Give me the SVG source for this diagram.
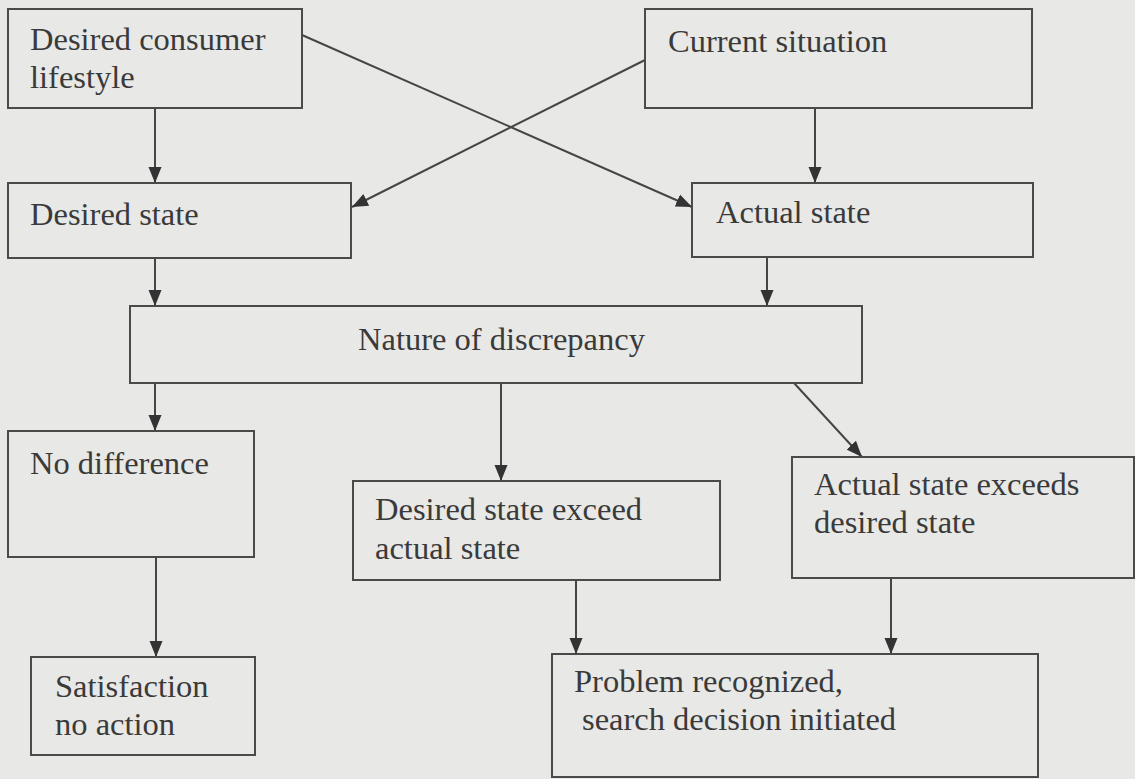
<svg xmlns="http://www.w3.org/2000/svg" width="1135" height="779" viewBox="0 0 1135 779">
<style>
.box{fill:none;stroke:#4a4a4a;stroke-width:2}
.lbl{font-family:"Liberation Serif","Times New Roman",serif;font-size:32.5px;fill:#3a3a3a}
.edge{stroke:#454545;stroke-width:2;fill:none;marker-end:url(#ah)}
</style>
<defs>
<marker id="ah" markerUnits="userSpaceOnUse" markerWidth="16" markerHeight="16" viewBox="0 0 16 16" refX="16" refY="8" orient="auto">
<path d="M0,1.5 L16,8 L0,14.5 z" fill="#333333"/>
</marker>
</defs>
<rect width="1135" height="779" fill="#e8e8e6"/>
<g id="connectors">
<line class="edge" x1="155" y1="108" x2="155" y2="183"/>
<line class="edge" x1="302" y1="35" x2="692" y2="207"/>
<line class="edge" x1="645" y1="60" x2="352" y2="207"/>
<line class="edge" x1="815" y1="108" x2="815" y2="183"/>
<line class="edge" x1="155" y1="258" x2="155" y2="306"/>
<line class="edge" x1="767" y1="257" x2="767" y2="306"/>
<line class="edge" x1="155" y1="383" x2="155" y2="431"/>
<line class="edge" x1="501" y1="383" x2="501" y2="481"/>
<line class="edge" x1="794" y1="383" x2="862" y2="457"/>
<line class="edge" x1="156" y1="557" x2="156" y2="657"/>
<line class="edge" x1="576" y1="580" x2="576" y2="654"/>
<line class="edge" x1="891" y1="578" x2="891" y2="654"/>
</g>
<g id="n-lifestyle"><rect class="box" x="8" y="9" width="294" height="99"/><text class="lbl" x="30" y="50">Desired consumer</text><text class="lbl" x="30" y="88">lifestyle</text></g>
<g id="n-current"><rect class="box" x="645" y="9" width="387" height="99"/><text class="lbl" x="668" y="52">Current situation</text></g>
<g id="n-desired"><rect class="box" x="8" y="183" width="343" height="75"/><text class="lbl" x="30" y="225">Desired state</text></g>
<g id="n-actual"><rect class="box" x="692" y="183" width="341" height="74"/><text class="lbl" x="716" y="223">Actual state</text></g>
<g id="n-nature"><rect class="box" x="130" y="306" width="732" height="77"/><text class="lbl" x="358" y="350">Nature of discrepancy</text></g>
<g id="n-nodiff"><rect class="box" x="8" y="431" width="246" height="126"/><text class="lbl" x="30" y="474">No difference</text></g>
<g id="n-dexa"><rect class="box" x="353" y="481" width="367" height="99"/><text class="lbl" x="375" y="520">Desired state exceed</text><text class="lbl" x="375" y="559">actual state</text></g>
<g id="n-aexd"><rect class="box" x="792" y="457" width="342" height="121"/><text class="lbl" x="814" y="495">Actual state exceeds</text><text class="lbl" x="814" y="533">desired state</text></g>
<g id="n-satisf"><rect class="box" x="31" y="657" width="224" height="98"/><text class="lbl" x="55" y="697">Satisfaction</text><text class="lbl" x="55" y="735">no action</text></g>
<g id="n-problem"><rect class="box" x="552" y="654" width="486" height="123"/><text class="lbl" x="574" y="692">Problem recognized,</text><text class="lbl" x="582" y="730">search decision initiated</text></g>
</svg>
